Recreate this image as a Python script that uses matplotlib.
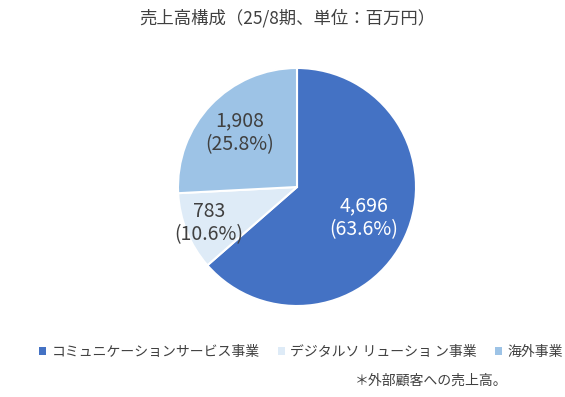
import matplotlib
matplotlib.use("Agg")
import matplotlib.pyplot as plt
from matplotlib.patches import Patch
import numpy as np

plt.rcParams['font.family'] = ['Noto Sans CJK JP', 'DejaVu Sans']

# data
segments = ["コミュニケーションサービス事業", "デジタルソ リューショ ン事業", "海外事業"]
sales = [4696, 783, 1908]
shares = [63.6, 10.6, 25.8]
colors = ["#4472C4", "#DEEBF7", "#9DC3E6"]
title = "売上高構成（25/8期、単位：百万円）"
note = "＊外部顧客への売上高。"

W, H = 565, 397
fig = plt.figure(figsize=(W / 100, H / 100), dpi=100)

# pie centre (297, 187) px, radius 119 px
cx, cy, r = 297, 187, 119
ax = fig.add_axes([(cx - r) / W, (H - cy - r) / H, 2 * r / W, 2 * r / H])
wedges, _ = ax.pie(sales, colors=colors, startangle=90, counterclock=False,
                   wedgeprops=dict(edgecolor="white", linewidth=1.5))
ax.set_xlim(-1, 1)
ax.set_ylim(-1, 1)
ax.set_aspect("equal")

label_dist = [0.62, 0.80, 0.66]
label_col = ["white", "#404040", "#404040"]
for w, v, s, d, c in zip(wedges, sales, shares, label_dist, label_col):
    ang = np.deg2rad((w.theta1 + w.theta2) / 2)
    ax.text(d * np.cos(ang), d * np.sin(ang), f"{v:,}\n({s}%)",
            ha="center", va="center", fontsize=14, color=c, linespacing=1.15)

fig.text(287 / W, 1 - 18 / H, title, ha="center", va="center",
         fontsize=12.5, color="#404040")

handles = [Patch(facecolor=c, edgecolor="none") for c in colors]
fig.legend(handles, segments, loc="center", bbox_to_anchor=(301 / W, 1 - 352 / H),
           ncol=3, frameon=False, fontsize=10, handlelength=0.5, handleheight=0.5,
           handletextpad=0.4, columnspacing=1.3, labelcolor="#404040")

fig.text(355 / W, 1 - 381 / H, note, ha="left", va="center",
         fontsize=10, color="#404040")

fig.savefig("out.png", dpi=100)
